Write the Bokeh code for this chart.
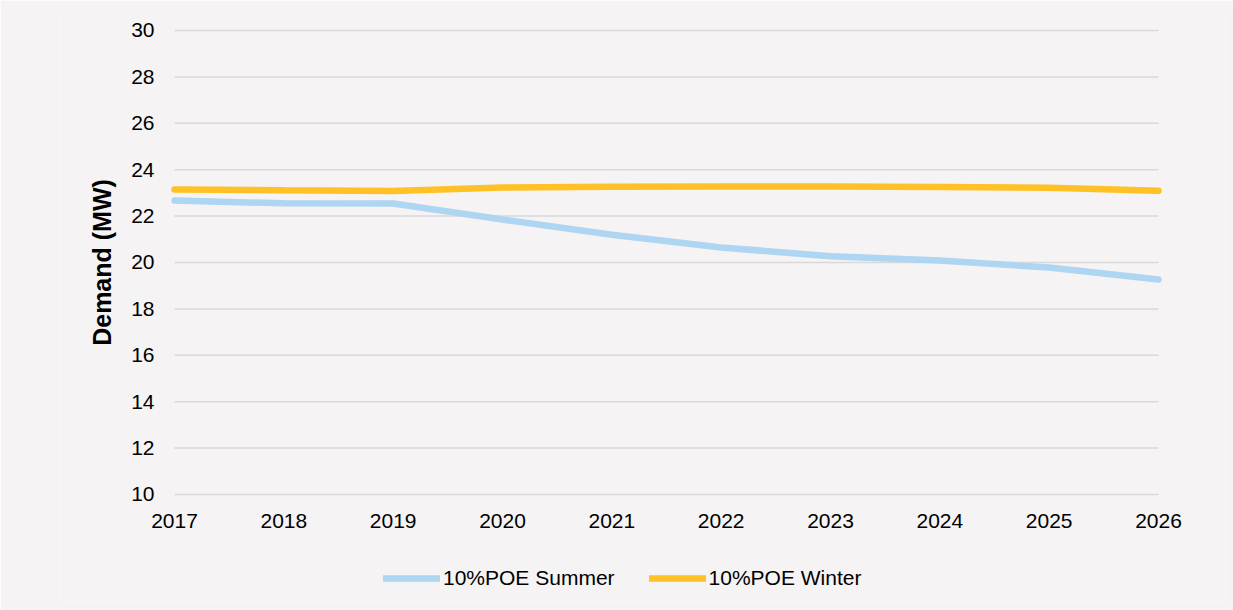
from bokeh.plotting import figure
from bokeh.models import Legend, LegendItem, FixedTicker, LinearAxis
from bokeh.embed import file_html
from bokeh.resources import INLINE

years = [2017, 2018, 2019, 2020, 2021, 2022, 2023, 2024, 2025, 2026]
summer = [22.67, 22.55, 22.54, 21.85, 21.2, 20.65, 20.27, 20.09, 19.78, 19.27]
winter = [23.15, 23.11, 23.08, 23.23, 23.26, 23.28, 23.28, 23.25, 23.22, 23.09]
y_ticks = [10, 12, 14, 16, 18, 20, 22, 24, 26, 28, 30]

BG = "#F5F3F4"
FONT = "Liberation Sans"

# the frame is larger than the value area so that axes and legend sit inside it
p = figure(width=1233, height=610, output_backend="svg", toolbar_location=None,
           x_range=(2015.9573, 2026.6128), y_range=(5.431, 30.862),
           x_axis_location=None,
           background_fill_color=BG, border_fill_color=BG,
           min_border_left=60, min_border_right=8, min_border_top=10, min_border_bottom=10)
p.outline_line_color = None
p.xgrid.grid_line_color = None
p.ygrid.grid_line_color = None

# horizontal gridlines at the y ticks, spanning the category extent
p.segment(x0=years[0], x1=years[-1], y0=y_ticks, y1=y_ticks,
          line_color="#D9D9D9", line_width=1.5)

r1 = p.line(years, summer, line_color="#AED5F1", line_width=6.5, line_cap="round")
r2 = p.line(years, winter, line_color="#FFC125", line_width=6.5, line_cap="round")

xaxis = LinearAxis(ticker=FixedTicker(ticks=years), fixed_location=y_ticks[0],
                   bounds=(years[0], years[-1]))
p.add_layout(xaxis, "below")
yaxis = p.yaxis[0]
yaxis.ticker = FixedTicker(ticks=y_ticks)
yaxis.fixed_location = years[0]
yaxis.bounds = (y_ticks[0], y_ticks[-1])

for ax in (xaxis, yaxis):
    ax.axis_line_color = None
    ax.major_tick_line_color = None
    ax.minor_tick_line_color = None
    ax.major_label_text_font = FONT
    ax.major_label_text_font_size = "21px"
    ax.major_label_text_color = "#000000"

xaxis.major_label_standoff = 14
yaxis.major_label_standoff = 14
yaxis.axis_label = "Demand (MW)"
yaxis.axis_label_text_font = FONT
yaxis.axis_label_text_font_size = "25px"
yaxis.axis_label_text_font_style = "bold"
yaxis.axis_label_text_color = "#000000"
yaxis.axis_label_standoff = 12

legend = Legend(items=[LegendItem(label="10%POE Summer", renderers=[r1]),
                       LegendItem(label="10%POE Winter", renderers=[r2])],
                orientation="horizontal", location=(323, 10),
                glyph_width=57, glyph_height=20, label_standoff=3, spacing=34,
                padding=0, margin=0, border_line_color=None,
                background_fill_alpha=0,
                label_text_font=FONT, label_text_font_size="21px", label_text_color="#000000")
p.add_layout(legend, "center")

open("out.html", "w").write(file_html(p, INLINE))
